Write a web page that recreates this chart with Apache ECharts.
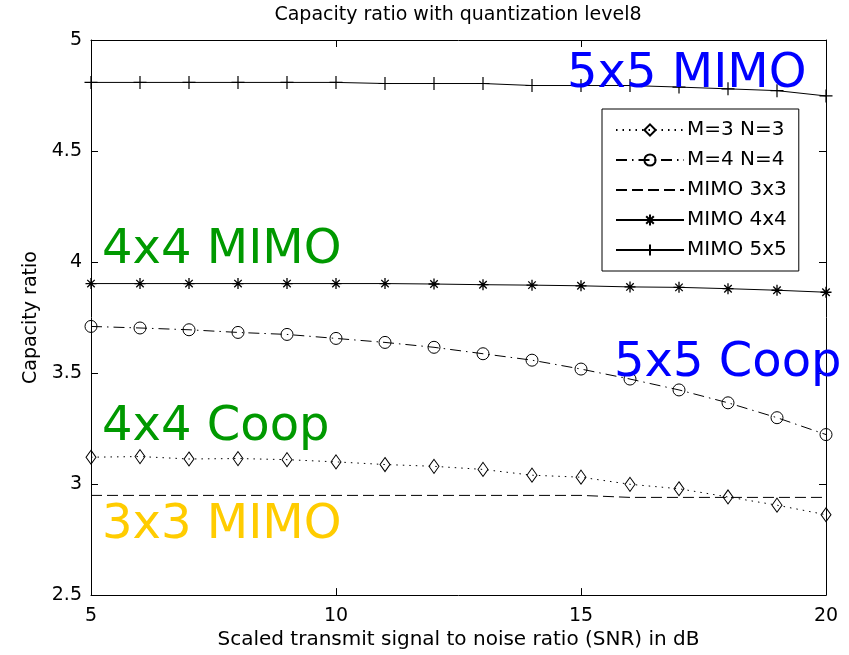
<!DOCTYPE html>
<html>
<head>
<meta charset="utf-8">
<script src="https://cdn.jsdelivr.net/npm/echarts@6/dist/echarts.min.js"></script>
<style>html,body{margin:0;padding:0;background:#fff;overflow:hidden}#c{width:849px;height:655px}</style>
</head>
<body>
<div id="c"></div>
<script>
// ---- data ----
const snr = [5, 6, 7, 8, 9, 10, 11, 12, 13, 14, 15, 16, 17, 18, 19, 20];
const coopM3N3 = [3.121, 3.124, 3.113, 3.115, 3.110, 3.100, 3.088, 3.080, 3.066, 3.040, 3.031, 2.999, 2.979, 2.942, 2.905, 2.862];
const coopM4N4 = [3.710, 3.703, 3.695, 3.683, 3.674, 3.656, 3.638, 3.616, 3.587, 3.558, 3.518, 3.473, 3.424, 3.366, 3.299, 3.223];
const mimo3x3 = [2.949, 2.949, 2.949, 2.949, 2.949, 2.949, 2.949, 2.949, 2.949, 2.949, 2.949, 2.940, 2.940, 2.940, 2.940, 2.940];
const mimo4x4 = [3.903, 3.903, 3.903, 3.903, 3.903, 3.903, 3.903, 3.901, 3.898, 3.896, 3.893, 3.888, 3.886, 3.880, 3.873, 3.864];
const mimo5x5 = [4.809, 4.809, 4.809, 4.809, 4.809, 4.809, 4.804, 4.804, 4.804, 4.795, 4.795, 4.795, 4.788, 4.780, 4.772, 4.748];
const seriesNames = ['M=3 N=3', 'M=4 N=4', 'MIMO 3x3', 'MIMO 4x4', 'MIMO 5x5'];
const titleText = 'Capacity ratio with quantization level8';
const xName = 'Scaled transmit signal to noise ratio (SNR) in dB';
const yName = 'Capacity ratio';
const annotations = ['5x5 MIMO', '4x4 MIMO', '4x4 Coop', '3x3 MIMO', '5x5 Coop'];

// ---- chart ----
const FONT = '"DejaVu Sans", "Liberation Sans", sans-serif';
const pair = arr => snr.map((x, i) => [x, arr[i]]);
const chart = echarts.init(document.getElementById('c'), null, {renderer: 'canvas', width: 849, height: 655});

const hollow = {color: 'rgba(0,0,0,0)', borderColor: '#000', borderWidth: 1};
const STAR = 'path://M0,5L10,5M5,0L5,10M1.6,1.6L8.4,8.4M1.6,8.4L8.4,1.6';
const PLUS = 'path://M0,5L10,5M5,0L5,10';

const annStyle = [
  {x: 567, y: 74.5, fill: '#0000ff'},
  {x: 102, y: 251, fill: '#009900'},
  {x: 102, y: 427.5, fill: '#009900'},
  {x: 102, y: 526, fill: '#ffcc00'},
  {x: 614, y: 363.5, fill: '#0000ff'}
];

const axisCommon = {
  axisLine: {show: true, lineStyle: {color: '#000', width: 1}},
  axisTick: {show: true, inside: true, length: 7, lineStyle: {color: '#000', width: 1}},
  splitLine: {show: false}
};

const legendData = seriesNames.map((n, i) => i === 2
  ? {name: n, itemStyle: {color: 'rgba(0,0,0,0)', borderColor: 'rgba(0,0,0,0)', borderWidth: 0}}
  : {name: n});

const option = {
  animation: false,
  backgroundColor: '#fff',
  graphic: [
    {type: 'text', z: 100, style: {text: titleText, x: 458, y: 15, font: '19px ' + FONT, fill: '#000', align: 'center', verticalAlign: 'middle', textAlign: 'center', textVerticalAlign: 'middle'}}
  ].concat(annotations.map((t, i) => ({
    type: 'text', z: 100,
    style: {text: t, x: annStyle[i].x, y: annStyle[i].y, font: '48px ' + FONT, fill: annStyle[i].fill, align: 'left', verticalAlign: 'middle', textAlign: 'left', textVerticalAlign: 'middle'}
  }))),
  grid: {left: 91, right: 23, top: 40, bottom: 55, containLabel: false},
  legend: {
    data: legendData,
    orient: 'vertical',
    left: 602, top: 109,
    padding: [11, 12, 11, 13],
    itemWidth: 68, itemHeight: 14,
    itemGap: 10,
    backgroundColor: '#fff',
    borderColor: '#000', borderWidth: 1,
    textStyle: {fontFamily: FONT, fontSize: 20, color: '#000', lineHeight: 18, padding: [0, 0, 0, -2]}
  },
  xAxis: [
    Object.assign({}, axisCommon, {
      type: 'value', min: 5, max: 20, interval: 5, position: 'bottom',
      name: xName, nameLocation: 'middle', nameGap: 32,
      nameTextStyle: {fontFamily: FONT, fontSize: 20, color: '#000', lineHeight: 20},
      axisLabel: {fontFamily: FONT, fontSize: 19, color: '#000', margin: 11}
    }),
    Object.assign({}, axisCommon, {
      type: 'value', min: 5, max: 20, interval: 5, position: 'top',
      axisLabel: {show: false}
    })
  ],
  yAxis: [
    Object.assign({}, axisCommon, {
      type: 'value', min: 2.5, max: 5, interval: 0.5, position: 'left',
      name: yName, nameLocation: 'middle', nameGap: 47, nameRotate: 90,
      nameTextStyle: {fontFamily: FONT, fontSize: 19, color: '#000'},
      axisLabel: {fontFamily: FONT, fontSize: 19, color: '#000', margin: 9}
    }),
    Object.assign({}, axisCommon, {
      type: 'value', min: 2.5, max: 5, interval: 0.5, position: 'right',
      axisLabel: {show: false}
    })
  ],
  series: [
    {
      name: seriesNames[0], type: 'line', data: pair(coopM3N3),
      symbol: 'diamond', symbolSize: [10, 14], showAllSymbol: true,
      lineStyle: {color: '#000', width: 1, type: [1.5, 5]},
      itemStyle: hollow
    },
    {
      name: seriesNames[1], type: 'line', data: pair(coopM4N4),
      symbol: 'circle', symbolSize: 12, showAllSymbol: true,
      lineStyle: {color: '#000', width: 1, type: [11, 5, 1.5, 5]},
      itemStyle: hollow
    },
    {
      name: seriesNames[2], type: 'line', data: pair(mimo3x3),
      symbol: 'none', showSymbol: false,
      lineStyle: {color: '#000', width: 1, type: [11, 5]},
      itemStyle: {color: '#000'}
    },
    {
      name: seriesNames[3], type: 'line', data: pair(mimo4x4),
      symbol: STAR, symbolSize: 11, showAllSymbol: true,
      lineStyle: {color: '#000', width: 1, type: 'solid'},
      itemStyle: {color: '#000', borderColor: '#000', borderWidth: 1.3}
    },
    {
      name: seriesNames[4], type: 'line', data: pair(mimo5x5),
      symbol: PLUS, symbolSize: 13, showAllSymbol: true,
      lineStyle: {color: '#000', width: 1, type: 'solid'},
      itemStyle: {color: '#000', borderColor: '#000', borderWidth: 1.2}
    }
  ]
};
chart.setOption(option);
</script>
</body>
</html>
